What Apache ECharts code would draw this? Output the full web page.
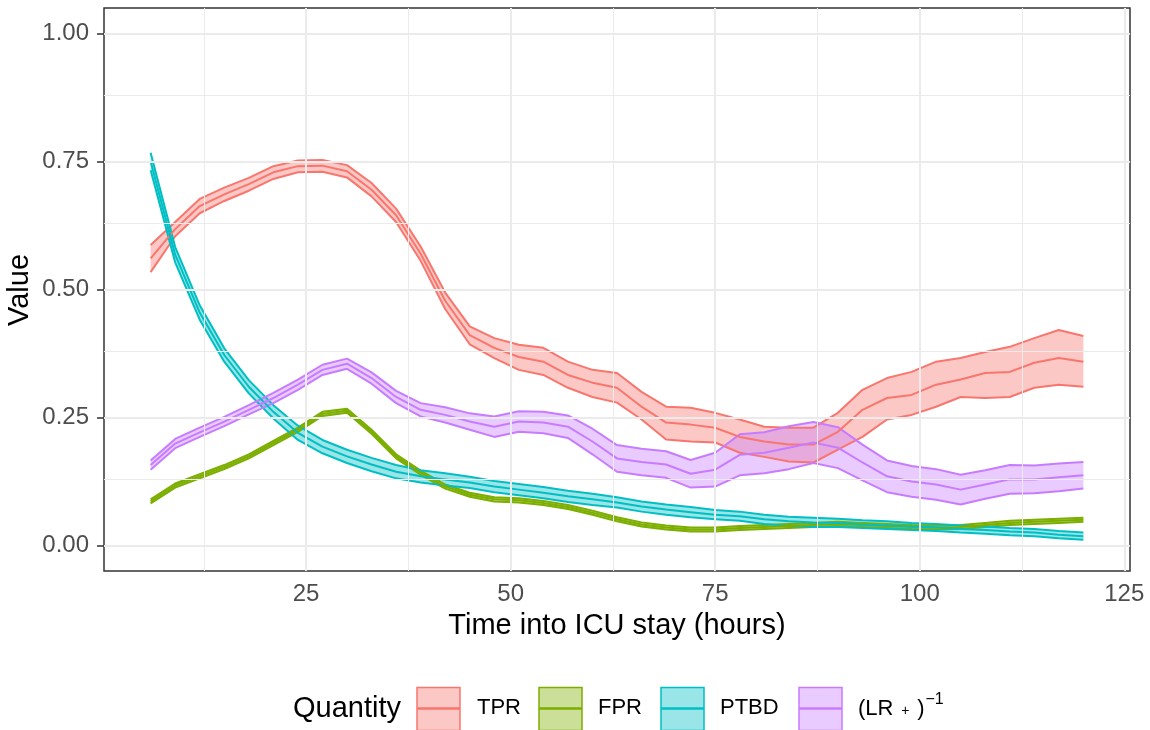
<!DOCTYPE html>
<html>
<head>
<meta charset="utf-8">
<title>ICU quantities</title>
<script src="https://cdn.jsdelivr.net/npm/echarts@6/dist/echarts.min.js"></script>
<style>
  html, body { margin: 0; padding: 0; background: #ffffff; }
  #main { width: 1150px; height: 730px; }
</style>
</head>
<body>
<div id="main"></div>
<script type="text/javascript">
// hours into ICU stay
var hours = [6, 9, 12, 15, 18, 21, 24, 27, 30, 33, 36, 39, 42, 45, 48, 51, 54, 57, 60,
  63, 66, 69, 72, 75, 78, 81, 84, 87, 90, 93, 96, 99, 102, 105, 108, 111, 114, 117, 120];

// TPR
var tprMean = [0.561, 0.618, 0.663, 0.686, 0.706, 0.729, 0.741, 0.742, 0.731, 0.695, 0.645, 0.570, 0.478,
  0.411, 0.386, 0.368, 0.359, 0.333, 0.318, 0.308, 0.271, 0.240, 0.236, 0.230, 0.212, 0.203, 0.197, 0.197,
  0.222, 0.265, 0.288, 0.294, 0.314, 0.324, 0.337, 0.339, 0.357, 0.366, 0.359];
var tprUpper = [0.587, 0.632, 0.677, 0.699, 0.718, 0.741, 0.752, 0.753, 0.743, 0.708, 0.658, 0.584, 0.494,
  0.428, 0.405, 0.392, 0.386, 0.359, 0.343, 0.337, 0.300, 0.271, 0.269, 0.259, 0.246, 0.232, 0.230, 0.230,
  0.259, 0.304, 0.327, 0.339, 0.359, 0.366, 0.378, 0.388, 0.405, 0.421, 0.409];
var tprLower = [0.534, 0.604, 0.649, 0.673, 0.693, 0.716, 0.729, 0.730, 0.719, 0.682, 0.632, 0.556, 0.462,
  0.393, 0.366, 0.343, 0.333, 0.308, 0.290, 0.279, 0.246, 0.207, 0.203, 0.201, 0.181, 0.173, 0.164, 0.162,
  0.187, 0.212, 0.246, 0.255, 0.271, 0.290, 0.288, 0.290, 0.308, 0.314, 0.310];

// FPR
var fprMean = [0.086, 0.117, 0.135, 0.153, 0.174, 0.200, 0.226, 0.257, 0.263, 0.222, 0.174, 0.142, 0.115,
  0.099, 0.090, 0.088, 0.083, 0.075, 0.064, 0.051, 0.041, 0.035, 0.031, 0.031, 0.034, 0.036, 0.038, 0.040,
  0.042, 0.040, 0.038, 0.036, 0.035, 0.036, 0.040, 0.044, 0.046, 0.048, 0.050];
var fprUpper = [0.090, 0.121, 0.139, 0.157, 0.178, 0.204, 0.230, 0.261, 0.267, 0.226, 0.178, 0.146, 0.119,
  0.103, 0.094, 0.092, 0.087, 0.079, 0.068, 0.055, 0.045, 0.039, 0.035, 0.035, 0.038, 0.040, 0.042, 0.044,
  0.046, 0.044, 0.042, 0.040, 0.039, 0.040, 0.044, 0.048, 0.050, 0.052, 0.054];
var fprLower = [0.082, 0.113, 0.131, 0.149, 0.170, 0.196, 0.222, 0.253, 0.259, 0.218, 0.170, 0.138, 0.111,
  0.095, 0.086, 0.084, 0.079, 0.071, 0.060, 0.047, 0.037, 0.031, 0.027, 0.027, 0.030, 0.032, 0.034, 0.036,
  0.038, 0.036, 0.034, 0.032, 0.031, 0.032, 0.036, 0.040, 0.042, 0.044, 0.046];

// PTBD
var ptbdMean = [0.750, 0.568, 0.455, 0.372, 0.310, 0.261, 0.220, 0.193, 0.174, 0.158, 0.144, 0.135, 0.129,
  0.123, 0.115, 0.109, 0.103, 0.096, 0.090, 0.084, 0.076, 0.070, 0.065, 0.060, 0.057, 0.051, 0.047, 0.045,
  0.044, 0.041, 0.039, 0.037, 0.035, 0.032, 0.030, 0.027, 0.025, 0.021, 0.018];
var ptbdUpper = [0.767, 0.583, 0.469, 0.385, 0.323, 0.274, 0.234, 0.206, 0.187, 0.171, 0.157, 0.147, 0.141,
  0.134, 0.126, 0.120, 0.114, 0.107, 0.101, 0.094, 0.086, 0.080, 0.075, 0.069, 0.066, 0.060, 0.056, 0.054,
  0.052, 0.049, 0.047, 0.044, 0.042, 0.039, 0.037, 0.034, 0.032, 0.028, 0.025];
var ptbdLower = [0.733, 0.553, 0.441, 0.359, 0.297, 0.248, 0.206, 0.180, 0.161, 0.145, 0.131, 0.123, 0.117,
  0.112, 0.104, 0.098, 0.092, 0.085, 0.079, 0.074, 0.066, 0.060, 0.055, 0.051, 0.048, 0.042, 0.038, 0.036,
  0.036, 0.034, 0.032, 0.030, 0.028, 0.025, 0.023, 0.020, 0.018, 0.014, 0.011];

// (LR+)^-1
var lrMean = [0.157, 0.199, 0.221, 0.242, 0.265, 0.288, 0.314, 0.343, 0.355, 0.327, 0.290, 0.265, 0.255,
  0.242, 0.232, 0.242, 0.240, 0.232, 0.203, 0.170, 0.163, 0.158, 0.140, 0.148, 0.177, 0.181, 0.191, 0.201,
  0.191, 0.162, 0.135, 0.125, 0.119, 0.109, 0.119, 0.129, 0.129, 0.133, 0.137];
var lrUpper = [0.166, 0.208, 0.230, 0.251, 0.274, 0.298, 0.324, 0.353, 0.365, 0.338, 0.302, 0.278, 0.270,
  0.258, 0.252, 0.262, 0.261, 0.254, 0.228, 0.196, 0.189, 0.184, 0.167, 0.181, 0.217, 0.221, 0.233, 0.241,
  0.231, 0.197, 0.166, 0.155, 0.149, 0.138, 0.147, 0.157, 0.156, 0.160, 0.163];
var lrLower = [0.148, 0.190, 0.212, 0.233, 0.256, 0.278, 0.304, 0.333, 0.345, 0.316, 0.278, 0.252, 0.240,
  0.226, 0.212, 0.222, 0.219, 0.210, 0.178, 0.144, 0.137, 0.132, 0.113, 0.115, 0.137, 0.141, 0.149, 0.161,
  0.151, 0.127, 0.104, 0.095, 0.089, 0.080, 0.091, 0.101, 0.102, 0.106, 0.111];

var xTicks = [25, 50, 75, 100, 125];
var xMinor = [12.5, 37.5, 62.5, 87.5, 112.5];
var yTicks = [0, 0.25, 0.5, 0.75, 1];
var yMinor = [0.125, 0.375, 0.625, 0.875];

var groups = [
  { name: "TPR", color: "#F8766D", fill: "rgba(248,118,109,0.4)", mean: tprMean, lo: tprLower, hi: tprUpper },
  { name: "FPR", color: "#7CAE00", fill: "rgba(124,174,0,0.4)", mean: fprMean, lo: fprLower, hi: fprUpper },
  { name: "PTBD", color: "#00BFC4", fill: "rgba(0,191,196,0.4)", mean: ptbdMean, lo: ptbdLower, hi: ptbdUpper },
  { name: "LR", color: "#C77CFF", fill: "rgba(199,124,255,0.4)", mean: lrMean, lo: lrLower, hi: lrUpper }
];

var FONT = "Liberation Sans, Arial, sans-serif";

function pairs(vals) {
  return hours.map(function (h, i) { return [h, vals[i]]; });
}

function bandSeries(g) {
  return {
    type: "custom",
    name: g.name + " band",
    silent: true,
    z: 2,
    data: hours.map(function (h, i) { return [h, g.lo[i], g.hi[i]]; }),
    encode: { x: 0, y: [1, 2] },
    renderItem: function (params, api) {
      if (params.dataIndex !== 0) return null;
      var top = hours.map(function (h, i) { return api.coord([h, g.hi[i]]); });
      var bot = hours.map(function (h, i) { return api.coord([h, g.lo[i]]); }).reverse();
      return {
        type: "polygon",
        shape: { points: top.concat(bot) },
        style: { fill: g.fill }
      };
    }
  };
}

function lineSeries(g, vals, z) {
  return {
    type: "line",
    name: g.name,
    data: pairs(vals),
    showSymbol: false,
    symbol: "none",
    silent: true,
    z: z,
    lineStyle: { color: g.color, width: 2 }
  };
}

var series = [];

// grid lines (ggplot style) on an empty helper series
var gridLines = [];
xMinor.forEach(function (v) { gridLines.push({ xAxis: v, lineStyle: { color: "#EBEBEB", width: 1, type: "solid" } }); });
yMinor.forEach(function (v) { gridLines.push({ yAxis: v, lineStyle: { color: "#EBEBEB", width: 1, type: "solid" } }); });
xTicks.forEach(function (v) { gridLines.push({ xAxis: v, lineStyle: { color: "#EBEBEB", width: 2, type: "solid" } }); });
yTicks.forEach(function (v) { gridLines.push({ yAxis: v, lineStyle: { color: "#EBEBEB", width: 2, type: "solid" } }); });
series.push({
  type: "line",
  name: "grid",
  data: [],
  z: 0,
  silent: true,
  markLine: {
    silent: true,
    symbol: ["none", "none"],
    label: { show: false },
    animation: false,
    data: gridLines
  }
});

groups.forEach(function (g) { series.push(bandSeries(g)); });
groups.forEach(function (g) {
  series.push(lineSeries(g, g.lo, 3));
  series.push(lineSeries(g, g.hi, 3));
});
groups.forEach(function (g) { series.push(lineSeries(g, g.mean, 4)); });

// legend drawn as ggplot-style keys
var legendItems = [
  { g: groups[0], box: 417, text: 477, label: "TPR" },
  { g: groups[1], box: 539, text: 598, label: "FPR" },
  { g: groups[2], box: 661, text: 720, label: "PTBD" },
  { g: groups[3], box: 799, text: 858, label: null }
];
var graphics = [{
  type: "text", left: 293, top: 694,
  style: { text: "Quantity", font: "29px " + FONT, fill: "#000000" }
}, {
  // y axis title
  type: "text", x: 20, y: 290, rotation: Math.PI / 2,
  style: { text: "Value", font: "29px " + FONT, fill: "#000000", align: "center", verticalAlign: "middle" }
}];
legendItems.forEach(function (it) {
  graphics.push({
    type: "rect",
    shape: { x: it.box, y: 687.5, width: 43, height: 43 },
    style: { fill: it.g.fill, stroke: it.g.color, lineWidth: 1.5 }
  });
  graphics.push({
    type: "line",
    shape: { x1: it.box, y1: 708.5, x2: it.box + 43, y2: 708.5 },
    style: { stroke: it.g.color, lineWidth: 2.5 }
  });
  if (it.label) {
    graphics.push({
      type: "text", left: it.text, top: 697,
      style: { text: it.label, font: "22px " + FONT, fill: "#000000" }
    });
  }
});
graphics.push({
  type: "text", left: 858, top: 692,
  style: {
    text: "{a|(LR}{b|  +  }{a|)}{c|−1}",
    rich: {
      a: { fontSize: 22, fontFamily: FONT, fill: "#000000", padding: [8, 0, 0, 0] },
      b: { fontSize: 14, fontFamily: FONT, fill: "#000000", padding: [12, 0, 0, 0] },
      c: { fontSize: 16, fontFamily: FONT, fill: "#000000", padding: [0, 0, 10, 1] }
    }
  }
});

var myChart = echarts.init(document.getElementById("main"), null, { renderer: "canvas" });

var option = {
  animation: false,
  backgroundColor: "#ffffff",
  textStyle: { fontFamily: FONT },
  grid: {
    left: 104, right: 20, top: 8, bottom: 159,
    show: true, borderColor: "#333333", borderWidth: 1.5, backgroundColor: "#ffffff",
    containLabel: false,
    outerBoundsMode: "none"
  },
  xAxis: {
    type: "value",
    min: 0.3, max: 125.7,
    name: "Time into ICU stay (hours)",
    nameLocation: "middle",
    nameGap: 40,
    nameTextStyle: { fontSize: 29, color: "#000000", fontFamily: FONT },
    axisLine: { show: false },
    axisTick: { show: true, customValues: xTicks, length: 7, lineStyle: { color: "#333333", width: 1.5 } },
    axisLabel: { customValues: xTicks, fontSize: 24, color: "#4D4D4D", margin: 11, fontFamily: FONT },
    splitLine: { show: false },
    minorSplitLine: { show: false }
  },
  yAxis: {
    type: "value",
    min: -0.05, max: 1.05,
    axisLine: { show: false },
    axisTick: { show: true, customValues: yTicks, length: 7, lineStyle: { color: "#333333", width: 1.5 } },
    axisLabel: {
      customValues: yTicks, fontSize: 24, color: "#4D4D4D", margin: 15, fontFamily: FONT,
      formatter: function (v) { return v.toFixed(2); }
    },
    splitLine: { show: false }
  },
  graphic: graphics,
  series: series
};

myChart.setOption(option);
</script>
</body>
</html>
